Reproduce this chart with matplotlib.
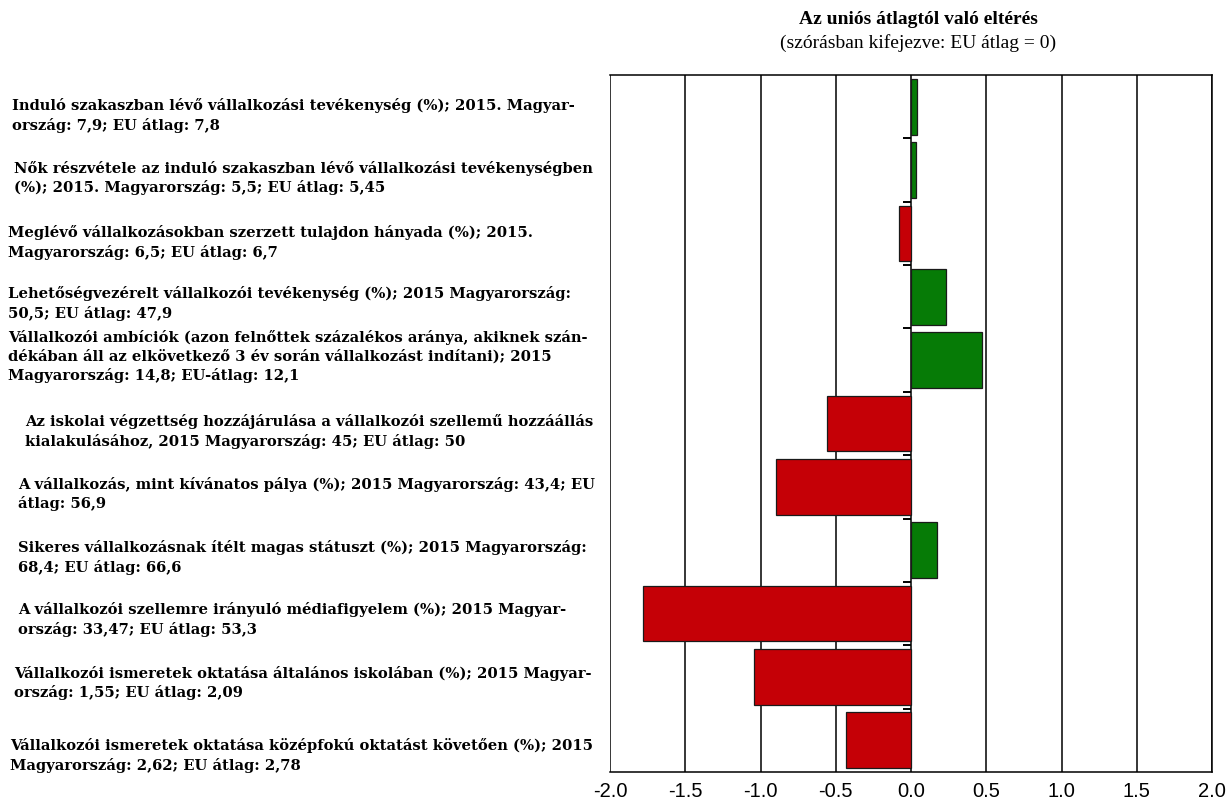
import matplotlib
matplotlib.use("Agg")
import matplotlib.pyplot as plt

# data (deviation from EU mean, in standard deviations)
labels = [
    "Induló szakaszban lévő vállalkozási tevékenység (%); 2015. Magyar-\nország: 7,9; EU átlag: 7,8",
    "Nők részvétele az induló szakaszban lévő vállalkozási tevékenységben\n(%); 2015. Magyarország: 5,5; EU átlag: 5,45",
    "Meglévő vállalkozásokban szerzett tulajdon hányada (%); 2015.\nMagyarország: 6,5; EU átlag: 6,7",
    "Lehetőségvezérelt vállalkozói tevékenység (%); 2015 Magyarország:\n50,5; EU átlag: 47,9",
    "Vállalkozói ambíciók (azon felnőttek százalékos aránya, akiknek szán-\ndékában áll az elkövetkező 3 év során vállalkozást indítani); 2015\nMagyarország: 14,8; EU-átlag: 12,1",
    "Az iskolai végzettség hozzájárulása a vállalkozói szellemű hozzáállás\nkialakulásához, 2015 Magyarország: 45; EU átlag: 50",
    "A vállalkozás, mint kívánatos pálya (%); 2015 Magyarország: 43,4; EU\nátlag: 56,9",
    "Sikeres vállalkozásnak ítélt magas státuszt (%); 2015 Magyarország:\n68,4; EU átlag: 66,6",
    "A vállalkozói szellemre irányuló médiafigyelem (%); 2015 Magyar-\nország: 33,47; EU átlag: 53,3",
    "Vállalkozói ismeretek oktatása általános iskolában (%); 2015 Magyar-\nország: 1,55; EU átlag: 2,09",
    "Vállalkozói ismeretek oktatása középfokú oktatást követően (%); 2015\nMagyarország: 2,62; EU átlag: 2,78",
]
values = [0.04, 0.033, -0.08, 0.23, 0.47, -0.56, -0.90, 0.17, -1.78, -1.04, -0.43]
xticks = [-2.0, -1.5, -1.0, -0.5, 0.0, 0.5, 1.0, 1.5, 2.0]

# label layout: left indent (px) and vertical nudge (px, down positive)
label_x_px = [12, 14, 8, 8, 8, 25, 18, 18, 18, 14, 10]
label_dy_px = [9, 8, 9, 7, -4, 8, 7, 7, 6, 6, 15]

GREEN = "#067b06"
RED = "#c50006"
W, H = 1229, 805

fig = plt.figure(figsize=(W / 100, H / 100), dpi=100)
ax = fig.add_axes([610 / W, 1 - 772 / H, 602 / W, 697 / H])

n = len(values)
ypos = list(range(n))
colors = [GREEN if v >= 0 else RED for v in values]
ax.barh(ypos, values, height=0.88, color=colors, edgecolor="#1a1a1a",
        linewidth=0.9, zorder=3)

ax.set_xlim(-2.0, 2.0)
ax.set_ylim(n - 0.5, -0.5)
ax.set_xticks(xticks)
ax.set_xticklabels([f"{t:.1f}" for t in xticks], family="Liberation Sans",
                   fontsize=14.5)
ax.tick_params(axis="x", length=0, pad=7)
for t in xticks:
    ax.axvline(t, color="black", linewidth=1.1, zorder=2)

# small tick marks on the zero line between categories
ax.spines["left"].set_position(("data", 0))
ax.spines["left"].set_visible(False)
ax.set_yticks([i + 0.5 for i in range(n - 1)])
ax.set_yticklabels([])
ax.tick_params(axis="y", direction="out", length=6, width=1.4, color="black")

for s in ["top", "bottom", "right"]:
    ax.spines[s].set_linewidth(1.1)

# category labels on the left
for i, lab in enumerate(labels):
    y_fig = ax.transData.transform((0, i))[1]
    fig.text(label_x_px[i] / W, (y_fig - label_dy_px[i]) / H, lab,
             family="DejaVu Serif", fontweight="bold", fontsize=10.6,
             ha="left", va="center", linespacing=1.38)

fig.text(918 / W, 1 - 19 / H, "Az uniós átlagtól való eltérés",
         family="Liberation Serif", fontweight="bold", fontsize=14,
         ha="center", va="center")
fig.text(918 / W, 1 - 43 / H, "(szórásban kifejezve: EU átlag = 0)",
         family="Liberation Serif", fontsize=14, ha="center", va="center")

fig.savefig("out.png", dpi=100, facecolor="white")
